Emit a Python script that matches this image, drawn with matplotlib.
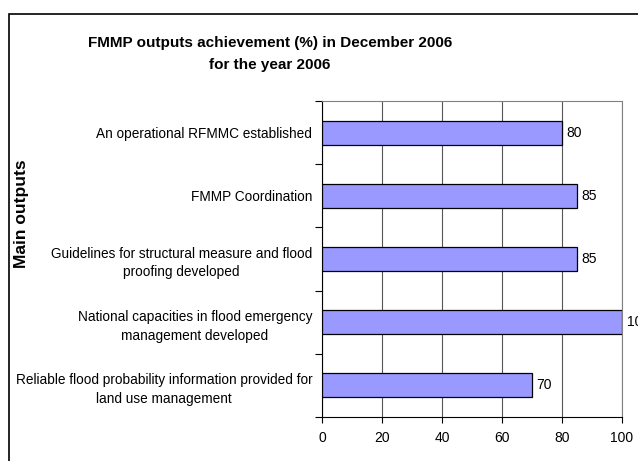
import matplotlib.pyplot as plt
from matplotlib.patches import Rectangle

plt.rcParams['font.family'] = ['Liberation Sans', 'DejaVu Sans']

# Data (top to bottom as shown in the chart)
outputs = [
    'An operational RFMMC established',
    'FMMP Coordination',
    'Guidelines for structural measure and flood\nproofing developed',
    'National capacities in flood emergency\nmanagement developed',
    'Reliable flood probability information provided for\nland use management',
]
achievement = [80, 85, 85, 100, 70]
x_ticks = [0, 20, 40, 60, 80, 100]

fig = plt.figure(figsize=(6.38, 4.61), dpi=100)
ax = fig.add_axes([322 / 638, 1 - 417 / 461, 300 / 638, 316 / 461])

# Outer chart border (runs off the right and bottom edges)
fig.patches.append(Rectangle((9 / 638, -0.1), 1.2, 1 - 14 / 461 + 0.1,
                             transform=fig.transFigure, fill=False,
                             edgecolor='black', linewidth=1.2, clip_on=False))

pos = list(range(len(outputs)))[::-1]
ax.barh(pos, achievement, height=0.38, color='#9999FF',
        edgecolor='black', linewidth=0.9, zorder=3)

for p, v in zip(pos, achievement):
    ax.text(v + 1.5, p, str(v), va='center', ha='left', fontsize=10,
            clip_on=False)

ax.set_xlim(0, 100)
ax.set_ylim(-0.5, len(outputs) - 0.5)
ax.set_xticks(x_ticks)
ax.set_xticklabels([str(t) for t in x_ticks], fontsize=10)
ax.tick_params(axis='x', direction='out', length=4, width=0.8, pad=6)

# category ticks at boundaries, labels at centers
ax.set_yticks([p + 0.5 for p in range(len(outputs) - 1)] + [-0.5, len(outputs) - 0.5])
ax.set_yticklabels([])
ax.set_yticks(pos, minor=True)
ax.set_yticklabels(outputs, minor=True, fontsize=9.8, multialignment='center',
                   linespacing=1.45)
ax.tick_params(axis='y', which='minor', length=0, pad=7)
ax.tick_params(axis='y', which='major', direction='out', length=5, width=0.8)

ax.grid(axis='x', color='#555555', linewidth=0.8, zorder=0)
ax.set_axisbelow(True)
for side in ['top', 'right']:
    ax.spines[side].set_color('#808080')
for side in ['left', 'bottom']:
    ax.spines[side].set_color('black')

fig.text(270 / 638, 1 - 43 / 461, 'FMMP outputs achievement (%) in December 2006',
         ha='center', va='center', fontsize=11, fontweight='bold')
fig.text(270 / 638, 1 - 65 / 461, 'for the year 2006',
         ha='center', va='center', fontsize=11, fontweight='bold')
fig.text(22 / 638, 1 - 214 / 461, 'Main outputs', rotation=90,
         ha='center', va='center', fontsize=12.5, fontweight='bold')

fig.savefig('out.png', dpi=100)
